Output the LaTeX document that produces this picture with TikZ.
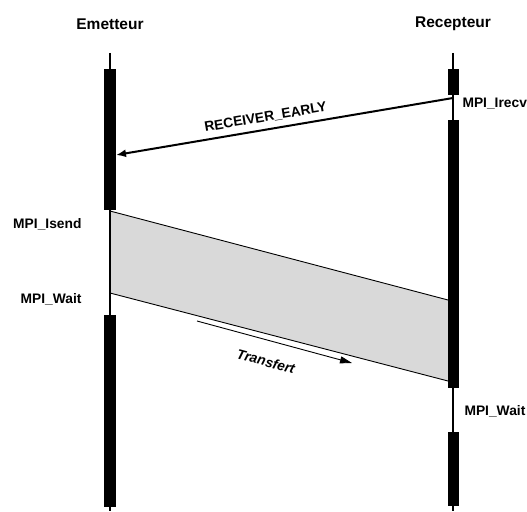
\documentclass[tikz,border=0pt]{standalone}
\usepackage{fontspec}
\setmainfont{Liberation Sans}
\usetikzlibrary{arrows.meta}

\begin{document}
\begin{tikzpicture}
    [
        x                = 1pt,
        y                = -1pt,
        lifeline/.style  = {draw, line width=1.1pt},
        busy/.style      = {fill=black},
        proc/.style      = {font=\fontsize{15.5}{17}\selectfont\bfseries},
        call/.style      = {font=\fontsize{13.8}{16}\selectfont\bfseries},
        slanted/.style   = {font=\fontsize{13.8}{16}\selectfont\bfseries\itshape},
        msg/.style       = {draw, line width=2pt, -{Latex[length=10pt,width=8pt]}},
        flow/.style      = {draw, line width=0.9pt, -{Triangle[length=12pt,width=7pt]}},
        transfer/.style  = {fill=black!15},
    ]
    \useasboundingbox (0,0) rectangle (527,511);

    \node [proc] (emetteur)  at (110,24) {Emetteur};
    \node [proc] (recepteur) at (453,24) {Recepteur};

    \coordinate (e top) at (110,53);
    \coordinate (e bot) at (110,511);
    \coordinate (r top) at (453,53);
    \coordinate (r bot) at (453,511);

    \coordinate (isend)     at (110,211);
    \coordinate (isend end) at (448,300);
    \coordinate (wait)      at (110,293);
    \coordinate (wait end)  at (448,381);

    \fill [transfer] (isend) -- (isend end) -- (wait end) -- (wait) -- cycle;
    \draw [line width=0.9pt] (isend) -- (isend end);
    \draw [line width=0.9pt] (wait) -- (wait end);

    \draw [lifeline] (e top) -- (e bot);
    \draw [lifeline] (r top) -- (r bot);

    \fill [busy] (104,69)  rectangle (116,210);
    \fill [busy] (104,315) rectangle (116,507);
    \fill [busy] (448,69)  rectangle (459,95);
    \fill [busy] (448,120) rectangle (459,388);
    \fill [busy] (448,432) rectangle (459,506);

    \coordinate (irecv) at (453,98);
    \coordinate (early) at (116,155);
    \draw [msg] (irecv) -- (early)
        node [call, pos=0.55, sloped, above=2pt] (early lbl) {RECEIVER\_EARLY};

    \coordinate (tr start) at (197,321);
    \coordinate (tr end)   at (352,363);
    \draw [flow] (tr start) -- (tr end)
        node [slanted, pos=0.48, sloped, below=12pt] (tr lbl) {Transfert};

    \node [call, anchor=east] (isend lbl)   at (85,224)  {MPI\_Isend};
    \node [call, anchor=east] (ewait lbl)   at (85,299)  {MPI\_Wait};
    \node [call, anchor=west] (irecv lbl)   at (459,104) {MPI\_Irecv};
    \node [call, anchor=west] (rwait lbl)   at (461,411) {MPI\_Wait};
\end{tikzpicture}
\end{document}
